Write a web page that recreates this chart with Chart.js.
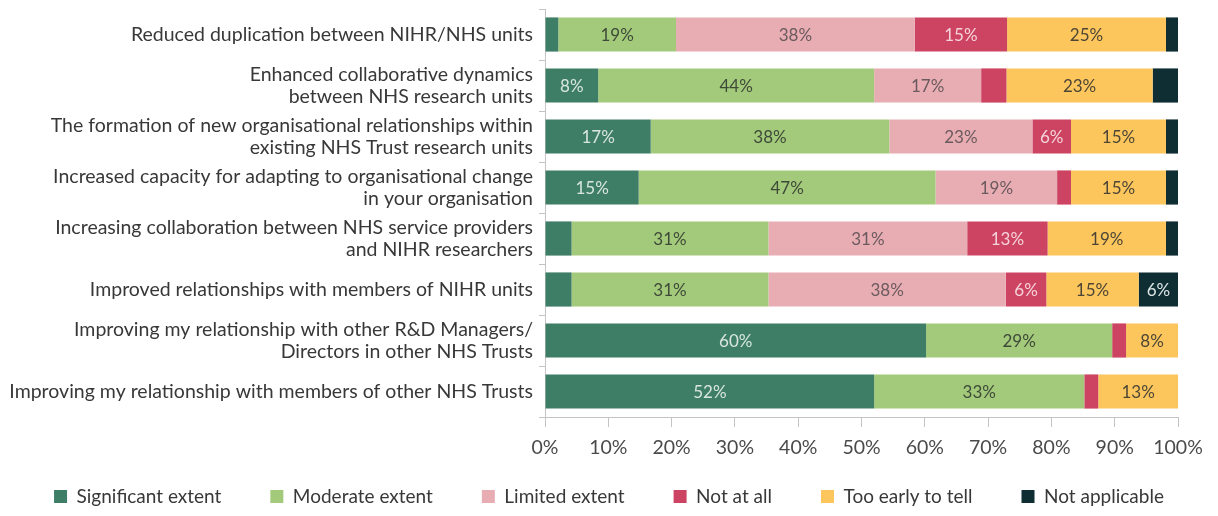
<!DOCTYPE html>
<html>
<head>
<meta charset="utf-8">
<script src="https://cdn.jsdelivr.net/npm/chart.js@4.4.1/dist/chart.umd.min.js"></script>
<style>
html, body { margin: 0; padding: 0; background: #fff; }
#wrap { width: 1218px; height: 516px; position: relative; }
</style>
</head>
<body>
<div id="wrap"><canvas id="extentChart"></canvas></div>
<script>
const categories = [
    "Reduced duplication between NIHR/NHS units",
    ["Enhanced collaborative dynamics", "between NHS research units"],
    ["The formation of new organisational relationships within", "existing NHS Trust research units"],
    ["Increased capacity for adapting to organisational change", "in your organisation"],
    ["Increasing collaboration between NHS service providers", "and NIHR researchers"],
    "Improved relationships with members of NIHR units",
    ["Improving my relationship with other R&D Managers/", "Directors in other NHS Trusts"],
    "Improving my relationship with members of other NHS Trusts"
];

const seriesNames = ["Significant extent", "Moderate extent", "Limited extent", "Not at all", "Too early to tell", "Not applicable"];

// percent of respondents
const significant   = [2.1, 8.4, 16.7, 14.8, 4.2, 4.2, 60.2, 52.0];
const moderate      = [18.6, 43.6, 37.7, 46.9, 31.1, 31.1, 29.4, 33.2];
const limited       = [37.7, 16.9, 22.6, 19.2, 31.4, 37.5, 0, 0];
const notAtAll      = [14.6, 4.0, 6.1, 2.2, 12.7, 6.4, 2.2, 2.2];
const tooEarly      = [25.1, 23.1, 15.0, 15.0, 18.7, 14.6, 8.2, 12.6];
const notApplicable = [1.9, 4.0, 1.9, 1.9, 1.9, 6.2, 0, 0];

const xTicks = [0, 10, 20, 30, 40, 50, 60, 70, 80, 90, 100];

const fillColors  = ["#3e7e67", "#a3c97b", "#e8adb3", "#cd4462", "#fcc65c", "#0e2e33"];
const labelColors = ["#d9e6e0", "#3e4a38", "#6a5a5e", "#f4d3da", "#4d4636", "#dde5e5"];

const FONT = "Lato";
const LEGEND_HEIGHT = 56;
const LEGEND_SHIFT = 22;

// legend spacing tweaks + the % in the middle of each segment
const segmentLabels = {
    id: "segmentLabels",
    beforeLayout(chart) {
        // wide gaps between legend items, but don't let the legend eat vertical room
        const lg = chart.legend;
        if (lg && !lg._fitPatched) {
            const fit = lg.fit;
            lg.fit = function () {
                fit.call(this);
                this.height = LEGEND_HEIGHT;
            };
            lg._fitPatched = true;
        }
    },
    afterLayout(chart) {
        const lg = chart.legend;
        if (lg) {
            lg.top -= LEGEND_SHIFT;
            lg.height += LEGEND_SHIFT;
        }
    },
    afterDatasetsDraw(chart) {
        const c = chart.ctx;
        c.save();
        c.font = "17px " + FONT;
        c.textAlign = "center";
        c.textBaseline = "middle";
        chart.data.datasets.forEach((ds, i) => {
            const meta = chart.getDatasetMeta(i);
            meta.data.forEach((bar, j) => {
                const v = ds.data[j];
                if (v < 5) return;
                c.fillStyle = labelColors[i];
                c.fillText(Math.round(v) + "%", (bar.x + bar.base) / 2, bar.y + 1);
            });
        });
        c.restore();
    }
};

const values = [significant, moderate, limited, notAtAll, tooEarly, notApplicable];

const ctx = document.getElementById("extentChart");

new Chart(ctx, {
    type: "bar",
    data: {
        labels: categories,
        datasets: seriesNames.map((name, i) => ({
            label: name,
            data: values[i],
            backgroundColor: fillColors[i],
            borderWidth: 0,
            barPercentage: 0.67,
            categoryPercentage: 1
        }))
    },
    options: {
        indexAxis: "y",
        responsive: true,
        maintainAspectRatio: false,
        animation: false,
        layout: {
            padding: { top: 9, right: 0, left: 0, bottom: 0 }
        },
        scales: {
            x: {
                stacked: true,
                min: 0,
                max: 100,
                afterBuildTicks: (scale) => {
                    scale.ticks = xTicks.map(v => ({ value: v }));
                },
                afterFit: (scale) => {
                    scale.height = 43;
                    scale.paddingLeft = 0;
                    scale.paddingRight = 40;
                },
                grid: { drawOnChartArea: false, tickLength: 10, color: "#c4c4c4" },
                border: { color: "#c4c4c4" },
                ticks: {
                    color: "#4a4a4a",
                    font: { family: FONT, size: 19.5 },
                    padding: 9,
                    maxRotation: 0,
                    callback: (v) => v + "%"
                }
            },
            y: {
                stacked: true,
                afterFit: (scale) => {
                    scale.width = 545;
                    scale.paddingTop = 0;
                    scale.paddingBottom = 0;
                },
                grid: { drawOnChartArea: false, offset: true, tickLength: 6, color: "#c4c4c4" },
                border: { color: "#c4c4c4" },
                ticks: {
                    color: "#383838",
                    font: { family: FONT, size: 19.5, lineHeight: 1.13 },
                    padding: 6
                }
            }
        },
        plugins: {
            legend: {
                position: "bottom",
                labels: {
                    boxWidth: 13,
                    boxHeight: 13,
                    padding: 49,
                    color: "#383838",
                    font: { family: FONT, size: 19 }
                }
            },
            tooltip: { enabled: false }
        }
    },
    plugins: [segmentLabels]
});
</script>
</body>
</html>
